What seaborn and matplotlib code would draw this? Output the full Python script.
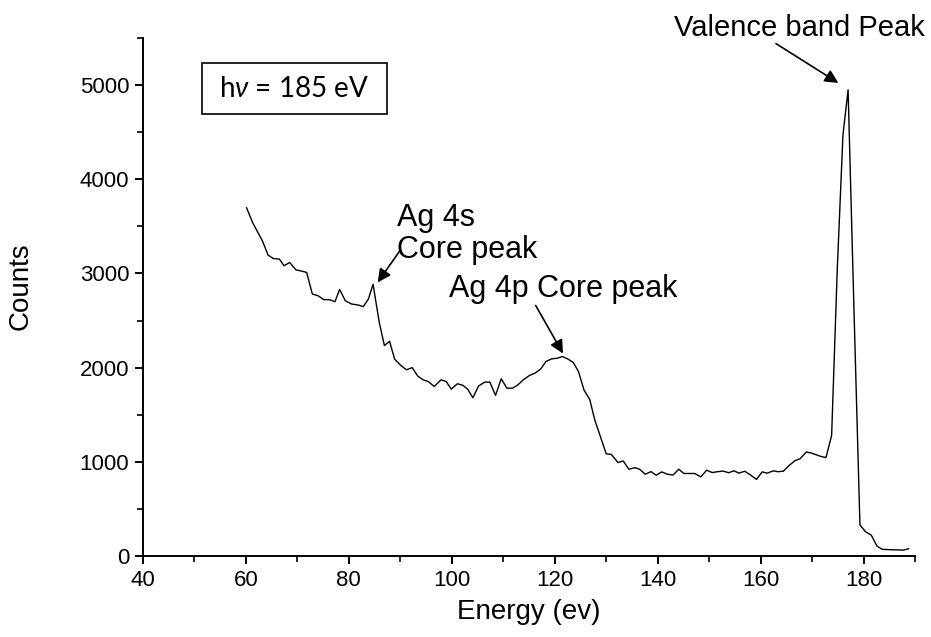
import matplotlib
matplotlib.use("Agg")
import matplotlib.pyplot as plt
import seaborn as sns
import pandas as pd
from matplotlib.patches import Rectangle
from matplotlib.ticker import MultipleLocator

# ---------------- data ----------------
energy = [60.1, 61.3, 63.2, 64.3, 65.3, 66.5, 67.4, 68.5, 69.7, 70.8, 71.8, 72.9, 74.0, 75.1,
          76.2, 77.3, 78.2, 79.3, 80.5, 81.8, 82.8, 83.8, 84.7, 85.9, 86.9, 87.9, 88.9, 90.1,
          91.2, 92.3, 93.4, 94.4, 95.4, 96.6, 97.9, 98.9, 99.9, 101.1, 102.2, 103.1, 104.1,
          105.2, 106.4, 107.4, 108.5, 109.6, 110.7, 111.8, 112.8, 113.9, 115.1, 116.2, 117.3,
          118.3, 119.4, 120.5, 121.5, 122.6, 123.6, 124.6, 125.7, 126.8, 127.8, 128.8, 130.0,
          131.0, 132.3, 133.3, 134.4, 135.6, 136.5, 137.6, 138.7, 139.7, 140.8, 141.9, 143.0,
          144.1, 145.1, 146.2, 147.2, 148.4, 149.5, 150.6, 151.6, 152.7, 153.8, 154.8, 155.8,
          156.9, 158.1, 159.2, 160.3, 161.3, 162.4, 163.4, 164.4, 165.6, 166.7, 167.7, 168.9,
          169.8, 170.8, 171.6, 172.7, 173.8, 174.9, 176.0, 177.0, 178.1, 179.3, 180.4, 181.5,
          182.6, 183.6, 184.7, 185.7, 186.7, 187.7, 188.8]
counts = [3700, 3540, 3346, 3195, 3159, 3152, 3082, 3117, 3039, 3025, 3011, 2782, 2764, 2722,
          2722, 2700, 2830, 2711, 2676, 2665, 2648, 2729, 2885, 2482, 2234, 2280, 2090, 2023,
          1977, 2000, 1910, 1871, 1853, 1800, 1871, 1853, 1772, 1829, 1811, 1770, 1680,
          1805, 1846, 1846, 1705, 1882, 1782, 1782, 1815, 1871, 1917, 1943, 1987,
          2065, 2093, 2100, 2118, 2090, 2055, 1960, 1760, 1662, 1440, 1280, 1085,
          1078, 992, 1009, 921, 938, 921, 868, 896, 858, 893, 868, 860,
          921, 876, 876, 876, 840, 911, 886, 895, 902, 884, 905, 880,
          900, 858, 813, 893, 879, 904, 895, 900, 964, 1013, 1034, 1105,
          1094, 1075, 1059, 1045, 1280, 3050, 4470, 4950, 2700, 330, 257, 222,
          106, 71, 68, 66, 65, 62, 78]

x_ticks = [40, 60, 80, 100, 120, 140, 160, 180]
y_ticks = [0, 1000, 2000, 3000, 4000, 5000]
x_label = "Energy (ev)"
y_label = "Counts"
box_text = r"h$\nu$ = 185 eV"
note_valence = "Valence band Peak"
note_4s = "Ag 4s\nCore peak"
note_4p = "Ag 4p Core peak"

df = pd.DataFrame({"Energy": energy, "Counts": counts})

# ---------------- style ----------------
sns.set_style("ticks")
plt.rcParams["font.family"] = ["Liberation Sans", "DejaVu Sans"]
plt.rcParams["text.color"] = "black"
plt.rcParams["axes.labelcolor"] = "black"
plt.rcParams["xtick.color"] = "black"
plt.rcParams["ytick.color"] = "black"
plt.rcParams["mathtext.fontset"] = "custom"
plt.rcParams["mathtext.rm"] = "Lato"
plt.rcParams["mathtext.it"] = "Lato:italic"

fig = plt.figure(figsize=(9.31, 6.37), dpi=100)
ax = fig.add_axes([143 / 931, 81 / 637, 772 / 931, 518 / 637])

sns.lineplot(data=df, x="Energy", y="Counts", color="black", linewidth=1.0, ax=ax,
             estimator=None, sort=False)

ax.set_xlim(40, 190)
ax.set_ylim(0, 5500)
ax.set_xticks(x_ticks)
ax.set_yticks(y_ticks)
ax.xaxis.set_minor_locator(MultipleLocator(10))
ax.yaxis.set_minor_locator(MultipleLocator(500))

for s in ["top", "right"]:
    ax.spines[s].set_visible(False)
for s in ["left", "bottom"]:
    ax.spines[s].set_linewidth(1.4)
    ax.spines[s].set_color("black")

ax.tick_params(which="major", direction="out", length=6, width=1.4, labelsize=16,
               colors="black", pad=4)
ax.tick_params(which="minor", direction="out", length=4, width=1.2, colors="black")

ax.set_xlabel(x_label, fontsize=20, color="black")
ax.set_ylabel(y_label, fontsize=20, color="black")
ax.xaxis.set_label_coords(0.5, -0.083)
ax.yaxis.set_label_coords(-0.142, 0.52)

# hv box
ax.add_patch(Rectangle((0.076, 0.8527), 0.2397, 0.0996, transform=ax.transAxes,
                       fill=False, edgecolor="black", linewidth=1.2, clip_on=False))
ax.text(0.196, 0.9025, box_text, transform=ax.transAxes, ha="center", va="center",
        fontsize=20, family=["Lato", "DejaVu Sans"], color="black")

arrow = dict(arrowstyle="-|>", color="black", lw=1.2, mutation_scale=20,
             shrinkA=0, shrinkB=0)

# Valence band peak
ax.text(191.9, 5602, note_valence, ha="right", va="center", fontsize=21, clip_on=False,
        color="black")
ax.annotate("", xy=(175.1, 5023), xytext=(163.0, 5440), arrowprops=arrow,
            annotation_clip=False)

# Ag 4s
ax.text(89.3, 3420, note_4s, ha="left", va="center", fontsize=22, linespacing=1.1,
        color="black")
ax.annotate("", xy=(85.6, 2905), xytext=(89.9, 3240), arrowprops=arrow)

# Ag 4p
ax.text(99.5, 2838, note_4p, ha="left", va="center", fontsize=22, color="black")
ax.annotate("", xy=(121.6, 2150), xytext=(116.3, 2660), arrowprops=arrow)

fig.savefig("out.png", dpi=100)
